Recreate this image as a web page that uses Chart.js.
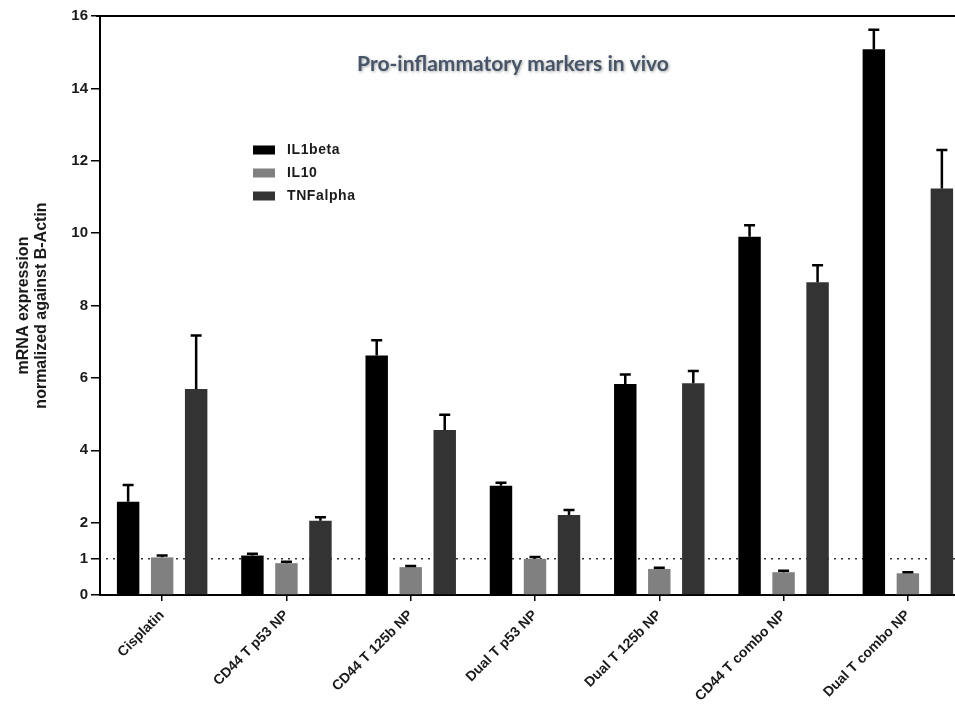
<!DOCTYPE html>
<html>
<head>
<meta charset="utf-8">
<script src="https://cdn.jsdelivr.net/npm/chart.js@4.4.1/dist/chart.umd.min.js"></script>
<style>
  html, body { margin: 0; padding: 0; background: #fff; overflow: hidden; }
  #wrap { width: 955px; height: 706px; overflow: hidden; position: relative; }
  canvas { display: block; }
</style>
</head>
<body>
<div id="wrap"><canvas id="c" width="975" height="706"></canvas></div>
<script>
// Treatment groups
const groups = ['Cisplatin', 'CD44 T p53 NP', 'CD44 T 125b NP', 'Dual T p53 NP',
                'Dual T 125b NP', 'CD44 T combo NP', 'Dual T combo NP'];

// Mean fold change (normalised to B-Actin) and upper error per marker
const il1beta    = [2.58, 1.09, 6.62, 3.02, 5.83, 9.90, 15.08];
const il1betaErr = [0.46, 0.05, 0.42, 0.08, 0.26, 0.32, 0.54];
const il10       = [1.04, 0.88, 0.77, 1.00, 0.72, 0.63, 0.60];
const il10Err    = [0.05, 0.04, 0.03, 0.05, 0.03, 0.04, 0.03];
const tnfalpha   = [5.69, 2.05, 4.56, 2.21, 5.85, 8.64, 11.23];
const tnfalphaErr= [1.48, 0.10, 0.42, 0.14, 0.34, 0.47, 1.07];

// Value axis ticks and the baseline reference level
const yTicks = [0, 1, 2, 4, 6, 8, 10, 12, 14, 16];
const baseline = 1;

const FONT = '"Liberation Sans", Arial, sans-serif';

// Upper-only error bars with caps
const errorBars = {
  id: 'errorBars',
  afterDatasetsDraw(chart) {
    const ctx = chart.ctx;
    const y = chart.scales.y;
    ctx.save();
    ctx.strokeStyle = '#000';
    ctx.lineWidth = 2.5;
    chart.data.datasets.forEach((ds, di) => {
      const meta = chart.getDatasetMeta(di);
      meta.data.forEach((bar, i) => {
        const top = y.getPixelForValue(ds.data[i] + ds.errors[i]);
        const x = bar.x;
        ctx.beginPath();
        ctx.moveTo(x, bar.y);
        ctx.lineTo(x, top);
        ctx.moveTo(x - 5.5, top);
        ctx.lineTo(x + 5.5, top);
        ctx.stroke();
      });
    });
    ctx.restore();
  }
};

// Dotted reference line at y = 1, top frame line, title and legend
const decorations = {
  id: 'decorations',
  beforeDatasetsDraw(chart) {
    const ctx = chart.ctx;
    const a = chart.chartArea;
    const py = chart.scales.y.getPixelForValue(baseline);
    ctx.save();
    ctx.strokeStyle = '#333';
    ctx.lineWidth = 1.6;
    ctx.setLineDash([2, 5]);
    ctx.beginPath();
    ctx.moveTo(a.left + 6, py);
    ctx.lineTo(a.right, py);
    ctx.stroke();
    ctx.restore();
  },
  afterDraw(chart) {
    const ctx = chart.ctx;
    const a = chart.chartArea;
    ctx.save();
    // top frame
    ctx.strokeStyle = '#000';
    ctx.lineWidth = 2;
    ctx.beginPath();
    ctx.moveTo(a.left - 4, a.top);
    ctx.lineTo(a.right + 5, a.top);
    ctx.stroke();

    // title
    ctx.font = 'bold 21px Lato, "Open Sans", sans-serif';
    ctx.fillStyle = '#475569';
    ctx.textAlign = 'center';
    ctx.textBaseline = 'middle';
    ctx.shadowColor = 'rgba(0,0,0,0.35)';
    ctx.shadowBlur = 3;
    ctx.shadowOffsetX = 1;
    ctx.shadowOffsetY = 1;
    ctx.fillText('Pro-inflammatory markers in vivo', 513, 64);
    ctx.shadowColor = 'transparent';

    // legend
    ctx.font = 'bold 14px ' + FONT;
    ctx.textAlign = 'left';
    ctx.letterSpacing = '0.6px';
    chart.data.datasets.forEach((ds, i) => {
      const cy = 150 + i * 23;
      ctx.fillStyle = ds.backgroundColor;
      ctx.fillRect(253, cy - 4.5, 22, 9);
      ctx.fillStyle = '#1a1a1a';
      ctx.fillText(ds.label, 287, cy + 0.5);
    });
    ctx.restore();
  }
};

new Chart(document.getElementById('c'), {
  type: 'bar',
  data: {
    labels: groups,
    datasets: [
      { label: 'IL1beta',  data: il1beta,  errors: il1betaErr,  backgroundColor: '#000000' },
      { label: 'IL10',     data: il10,     errors: il10Err,     backgroundColor: '#808080' },
      { label: 'TNFalpha', data: tnfalpha, errors: tnfalphaErr, backgroundColor: '#333333' }
    ]
  },
  options: {
    responsive: false,
    animation: false,
    layout: { padding: { top: 16, right: 5, left: 0, bottom: 0 } },
    datasets: {
      bar: { categoryPercentage: 0.821, barPercentage: 0.66 }
    },
    plugins: {
      legend: { display: false },
      tooltip: { enabled: false }
    },
    scales: {
      x: {
        offset: true,
        grid: { display: true, drawOnChartArea: false, offset: false, tickLength: 6,
                color: '#000', lineWidth: 1.5 },
        border: { display: true, color: '#000', width: 2 },
        ticks: {
          color: '#1a1a1a', font: { family: FONT, size: 14, weight: 'bold' },
          minRotation: 45, maxRotation: 45, padding: 6, autoSkip: false
        },
        afterFit(s) { s.height = 111; }
      },
      y: {
        min: 0, max: 16,
        afterBuildTicks(s) { s.ticks = yTicks.map(v => ({ value: v })); },
        grid: { display: true, drawOnChartArea: false, tickLength: 9,
                color: '#000', lineWidth: 1.5 },
        border: { display: true, color: '#000', width: 2 },
        ticks: {
          color: '#1a1a1a', font: { family: FONT, size: 15, weight: 'bold' }, padding: 3
        },
        title: {
          display: true,
          text: ['mRNA expression', 'normalized against B-Actin'],
          color: '#1a1a1a',
          font: { family: FONT, size: 16, weight: 'bold', lineHeight: 1.15 },
          padding: { top: 14, bottom: 0 }
        },
        afterFit(s) { s.width = 100; }
      }
    }
  },
  plugins: [errorBars, decorations]
});
</script>
</body>
</html>
